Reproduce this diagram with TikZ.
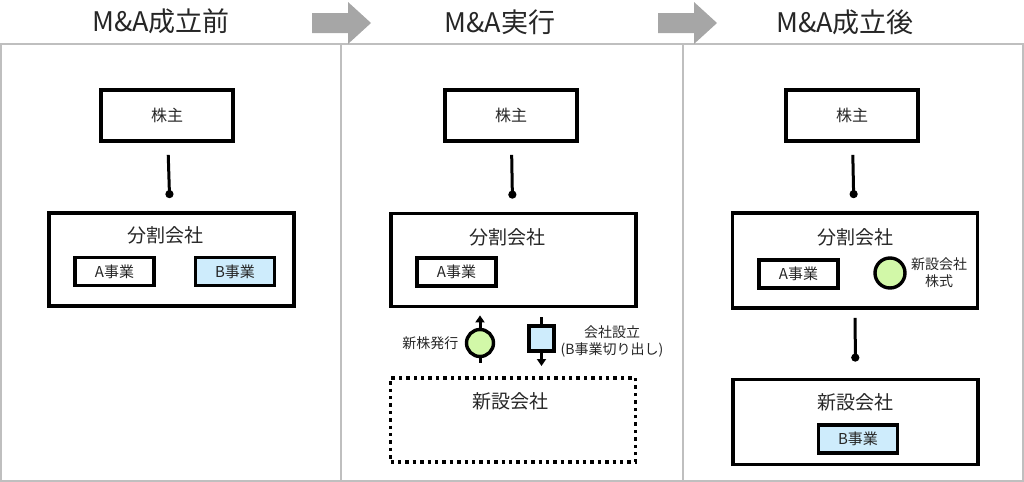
\documentclass[tikz,border=0pt]{standalone}
\usepackage{fontspec}
\setmainfont{Noto Sans CJK JP}
\usetikzlibrary{arrows.meta,positioning}
\definecolor{panelgray}{RGB}{191,191,191}
\definecolor{arrowgray}{RGB}{166,166,166}
\definecolor{bizblue}{RGB}{206,236,252}
\definecolor{stockgreen}{RGB}{210,248,168}
\definecolor{textgray}{RGB}{38,38,38}

\begin{document}
\begin{tikzpicture}[x=0.5pt,y=-0.5pt,
  panel/.style={draw=panelgray,line width=0.8pt},
  header/.style={text=textgray,font=\fontsize{13.5}{16}\selectfont},
  holder/.style={draw,line width=1.9pt,minimum width=66pt,minimum height=25.5pt,text=textgray,font=\fontsize{8}{10}\selectfont},
  company/.style={draw,line width=1.9pt,minimum width=122.5pt,minimum height=46.5pt},
  newco/.style={draw,line width=1.6pt,dash pattern=on 1.7pt off 2pt,minimum width=122.5pt,minimum height=42pt},
  title/.style={text=textgray,font=\fontsize{9.5}{11}\selectfont},
  biz/.style={draw,line width=1.6pt,minimum width=39.5pt,minimum height=14pt,inner sep=0pt,text=textgray,font=\fontsize{7.5}{9}\selectfont},
  note/.style={text=textgray,font=\fontsize{7}{8.5}\selectfont,align=center,inner sep=1pt},
  stock/.style={circle,draw,line width=1.7pt,fill=stockgreen,minimum size=14pt,inner sep=0pt},
  link/.style={line width=1.5pt,-{Circle[length=4pt]}},
  flow/.style={line width=1.5pt,-{Triangle[length=3.5pt,width=4.5pt]}},
]
\useasboundingbox (0,0) rectangle (1024,482);

% panels
\draw[panel] (1,44) rectangle (341,481);
\draw[panel] (341,44) rectangle (683,481);
\draw[panel] (683,44) rectangle (1023,481);

\fill[arrowgray] (312,13) -- (348,13) -- (348,2) -- (371,23) -- (348,44) -- (348,33) -- (312,33) -- cycle;
\fill[arrowgray] (658,13) -- (694,13) -- (694,2) -- (717,23) -- (694,44) -- (694,33) -- (658,33) -- cycle;

\node[header] (hbefore) at (161,21) {M\&A成立前};
\node[header] (hexec) at (500,22) {M\&A実行};
\node[header] (hafter) at (845,22) {M\&A成立後};

% before
\node[holder] (kabu1) at (167,115.5) {株主};
\node[company] (bun1) at (171.5,259.5) {};
\node[title] (bun1t) at (165,235) {分割会社};
\node[biz] (a1) at (114.5,271.5) {A事業};
\node[biz,fill=bizblue] (b1) at (235,271.5) {B事業};
\draw[link,shorten <=6pt,shorten >=6.5pt] (kabu1) -- (bun1);

% execution
\node[holder] (kabu2) at (511,115.5) {株主};
\node[company] (bun2) at (513.5,260) {};
\node[title] (bun2t) at (507,237) {分割会社};
\node[biz] (a2) at (456.5,272) {A事業};
\draw[link,shorten <=6pt,shorten >=6.5pt] (kabu2) -- (bun2);

\node[stock,minimum size=13.5pt] (issue) at (480,343) {};
\node[note,left=2pt of issue] (issuet) {新株発行};
\node[draw,line width=1.7pt,fill=bizblue,minimum size=12.5pt,inner sep=0pt] (spin) at (541.5,338.5) {};
\node[note] (spint) at (612,341) {会社設立\\(B事業切り出し)};
\coordinate (issuetail) at (480,363);
\coordinate (spintop) at (541.5,317);
\coordinate (spintip) at (541.5,366);
\draw[flow,shorten >=3.5pt] (issue.north) -- (issue.north |- bun2.south);
\draw[line width=1.5pt] (issue.south) -- (issuetail);
\draw[line width=1.5pt] (spintop) -- (spin.north);
\draw[flow] (spin.south) -- (spintip);

\node[newco] (shin2) at (513,420) {};
\node[title] (shin2t) at (510,401) {新設会社};

% after
\node[holder] (kabu3) at (852,115.5) {株主};
\node[company,minimum height=47.5pt] (bun3) at (855,260.5) {};
\node[title] (bun3t) at (855,237) {分割会社};
\node[biz] (a3) at (798.5,274) {A事業};
\node[stock,minimum size=15pt] (stock3) at (890,273) {};
\node[note,right=1pt of stock3] (stock3t) {新設会社\\株式};
\draw[link,shorten <=6pt,shorten >=6.5pt] (kabu3) -- (bun3);

\node[company,minimum height=42.5pt] (shin3) at (855.5,422) {};
\node[title] (shin3t) at (855,402) {新設会社};
\node[biz,fill=bizblue] (b3) at (858,439) {B事業};
\draw[link,shorten <=4pt,shorten >=8pt] (bun3) -- (shin3);
\end{tikzpicture}
\end{document}
